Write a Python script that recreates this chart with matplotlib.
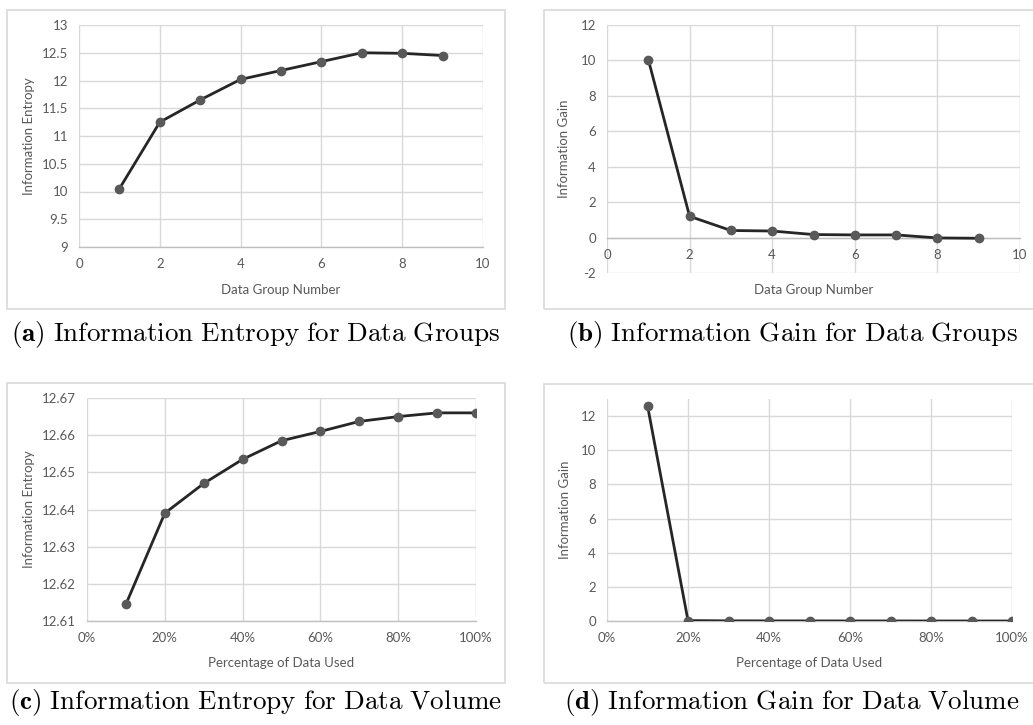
import numpy as np
import matplotlib
matplotlib.use("Agg")
import matplotlib.pyplot as plt
from matplotlib.patches import Rectangle
from matplotlib.ticker import FuncFormatter

plt.rcParams['font.family'] = ['Lato', 'DejaVu Sans']
plt.rcParams['mathtext.fontset'] = 'cm'
plt.rcParams['axes.unicode_minus'] = False

# data
groups = [1, 2, 3, 4, 5, 6, 7, 8, 9]
entropy_groups = [10.05, 11.25, 11.65, 12.02, 12.18, 12.34, 12.50, 12.49, 12.45]
gain_groups = [10.05, 1.20, 0.40, 0.37, 0.17, 0.15, 0.15, -0.02, -0.04]

pct_used = [0.1, 0.2, 0.3, 0.4, 0.5, 0.6, 0.7, 0.8, 0.9, 1.0]
entropy_volume = [12.6145, 12.6390, 12.6470, 12.6535, 12.6585, 12.6610,
                  12.6637, 12.6650, 12.6660, 12.6660]
gain_volume = [12.61, 0.0245, 0.008, 0.0065, 0.005, 0.0025, 0.0027,
               0.0013, 0.001, 0.0]

captions = [r"$\mathbf{(a)}\ \mathrm{Information\ Entropy\ for\ Data\ Groups}$",
            r"$\mathbf{(b)}\ \mathrm{Information\ Gain\ for\ Data\ Groups}$",
            r"$\mathbf{(c)}\ \mathrm{Information\ Entropy\ for\ Data\ Volume}$",
            r"$\mathbf{(d)}\ \mathrm{Information\ Gain\ for\ Data\ Volume}$"]

W, H = 1033, 725
fig = plt.figure(figsize=(W / 100, H / 100), dpi=100)

def px_axes(l, t, r, b):
    return fig.add_axes([l / W, 1 - b / H, (r - l) / W, (b - t) / H])

def frame(l, t, r, b):
    fig.patches.append(Rectangle((l / W, 1 - b / H), (r - l) / W, (b - t) / H,
                                 transform=fig.transFigure, fill=False,
                                 edgecolor='#d9d9d9', linewidth=1.2))

txt = '#595959'
grid_c = '#d9d9d9'

def style(ax, xlab, ylab, xl_pos, yl_pos):
    for s in ax.spines.values():
        s.set_visible(False)
    ax.spines['bottom'].set_visible(True)
    ax.spines['bottom'].set_color('#bfbfbf')
    ax.spines['bottom'].set_linewidth(1.0)
    ax.grid(True, color=grid_c, linewidth=1.0)
    ax.set_axisbelow(True)
    ax.tick_params(length=0, labelsize=9.5, colors=txt, pad=8)
    ax.set_xlabel(xlab, fontsize=9.5, color=txt)
    ax.set_ylabel(ylab, fontsize=9.5, color=txt)
    ax.xaxis.set_label_coords(0.5, xl_pos)
    ax.yaxis.set_label_coords(yl_pos, 0.5)

def draw(ax, x, y):
    ax.plot(x, y, color='#262626', linewidth=2.0, zorder=3)
    ax.plot(x, y, 'o', color='#595959', markersize=6, zorder=4)

pct_fmt = FuncFormatter(lambda v, p: f"{v * 100:.0f}%")

# (a)
frame(7, 10, 505, 309)
ax = px_axes(79, 25, 483, 247)
draw(ax, groups, entropy_groups)
ax.set_xlim(0, 10)
ax.set_ylim(9, 13)
ax.set_xticks(np.arange(0, 11, 2))
ax.set_yticks(np.arange(9, 13.01, 0.5))
ax.yaxis.set_major_formatter(FuncFormatter(lambda v, p: f"{v:g}"))
style(ax, 'Data Group Number', 'Information Entropy', -0.167, -0.109)

# (b)
frame(544, 10, 1040, 309)
ax = px_axes(607, 25, 1020, 273)
draw(ax, groups, gain_groups)
ax.set_xlim(0, 10)
ax.set_ylim(-2, 12)
ax.set_xticks(np.arange(0, 11, 2))
ax.set_yticks(np.arange(-2, 12.1, 2))
style(ax, 'Data Group Number', 'Information Gain', -0.044, -0.0896)
ax.spines['bottom'].set_position(('data', 0))

# (c)
frame(7, 383, 505, 683)
ax = px_axes(87, 398, 476, 621)
draw(ax, pct_used, entropy_volume)
ax.set_xlim(0, 1)
ax.set_ylim(12.61, 12.67)
ax.set_xticks(np.arange(0, 1.01, 0.2))
ax.set_yticks(np.arange(12.61, 12.6701, 0.01))
ax.xaxis.set_major_formatter(pct_fmt)
ax.yaxis.set_major_formatter(FuncFormatter(lambda v, p: f"{v:.2f}"))
style(ax, 'Percentage of Data Used', 'Information Entropy', -0.161, -0.134)

# (d)
frame(544, 384, 1040, 683)
ax = px_axes(607, 399, 1012, 621)
draw(ax, pct_used, gain_volume)
ax.set_xlim(0, 1)
ax.set_ylim(0, 13)
ax.set_xticks(np.arange(0, 1.01, 0.2))
ax.set_yticks(np.arange(0, 12.1, 2))
ax.xaxis.set_major_formatter(pct_fmt)
style(ax, 'Percentage of Data Used', 'Information Gain', -0.162, -0.0896)

# captions
for (cx, cy), cap in zip([(255, 334), (792, 334), (255, 703), (792, 703)], captions):
    fig.text(cx / W, 1 - cy / H, cap, ha='center', va='center', fontsize=19.5,
             color='black')

fig.savefig('out.png', dpi=100)
